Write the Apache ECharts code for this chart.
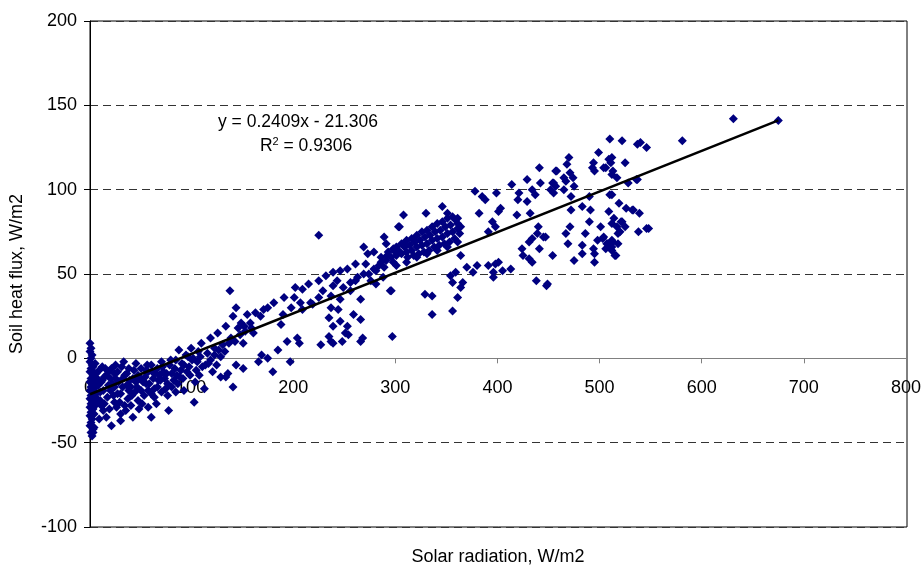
<!DOCTYPE html>
<html>
<head>
<meta charset="utf-8">
<script src="https://cdn.jsdelivr.net/npm/echarts@6/dist/echarts.min.js"></script>
<style>
html,body{margin:0;padding:0;background:#fff;}
#chart{width:924px;height:567px;}
</style>
</head>
<body>
<div id="chart"></div>
<script>
// ---- data ----
var xTicks = [0, 100, 200, 300, 400, 500, 600, 700, 800];
var yTicks = [-100, -50, 0, 50, 100, 150, 200];

// column of night-time points close to zero radiation
var pointsNearZero = [
[0,9],[1,6],[0,4],[2,2],[1,0],[0,-2],[2,-4],[1,-6],[0,-8],[3,-10],[1,-12],[0,-14],[2,-15],[1,-17],[0,-19],[3,-20],
[1,-22],[0,-24],[2,-25],[1,-27],[0,-29],[3,-30],[1,-32],[0,-34],[2,-36],[1,-38],[0,-40],[3,-42],[1,-44],[2,-46],
[4,-18],[4,-23],[5,-28],[4,-33],[5,-15],[6,-21],[6,-26],[4,-12],[3,-5]
];

// low radiation cloud
var pointsLow = [
[8,-16],[10,-20],[12,-13],[14,-11],[11,-14],[11,-28],[16,-35],[17,-23],[21,-40],[4,-41],[3,-44],[24,-9],[24,-17],
[24,-26],[20,-19],[28,-14],[30,-21],[30,-33],[30,-37],[34,-10],[36,-16],[37,-24],[40,-17],[40,-28],[42,-12],[44,-20],
[47,-10],[47,-25],[50,-19],[52,-14],[55,-7],[57,-8],[57,-19],[57,-29],[60,-35],[60,-4],[62,-12],[63,-23],[66,-17],
[66,-6],[69,-13],[70,-2],[72,-8],[74,-18],[76,-15],[76,-22],[77,-31],[78,-4],[80,-9],[82,-13],[84,-1],[86,-15],
[87,5],[89,-7],[90,-3],[92,-19],[94,2],[96,1],[98,-10],[99,6],[102,-26],[105,-2],[106,4],[109,9],[110,-5],[113,-4],
[115,3],[118,12],[120,-8],[122,6],[125,15],[128,1],[128,-11],[130,8],[133,19],[133,-11],[135,-9],[137,40],[138,12],
[140,25],[140,-17],[143,30],[143,-4],[145,18],[148,21],[150,-6],[150,9],[151,19],[154,26],[157,21],[160,15],[162,27],
[165,-2],[167,25],[168,2],[170,29],[174,0],[174,30],[179,-8],[180,33],[184,5],[187,20],[189,26],[190,36],[193,10],
[196,-2],[197,30],[200,36],[201,42],[203,12],[205,9],[206,33],[208,41],[208,29],[214,44],[216,33],[218,32],
[15,-6],[18,-8],[20,-12],[25,-4],[33,-2],[38,-6],[45,-3],[48,-30],[53,-22],[65,-27],[70,-20],[35,-31],[26,-29],
[13,-31],[9,-36],[7,-24],[6,-9],[12,-5],[42,-35],[64,-9],[84,-20],[95,-8],[103,-14],[112,-18],[118,-1],[124,-4],
[22,-15],[27,-21],[32,-12],[38,-19],[45,-14],[50,-6],[55,-15],[60,-21],[68,-10],[73,-12],[80,-17],[88,-11],[92,-4],
[100,-1],[104,-7],[108,1],[116,-3],[122,2],[126,5],[132,4],[136,9],[142,10],[147,14],[152,16],[158,18],
[3,-8],[5,-3],[7,-12],[9,-7],[10,-25],[13,-19],[14,-27],[16,-10],[18,-16],[19,-30],[21,-6],[23,-22],[25,-12],[27,-8],
[29,-26],[31,-5],[32,-17],[34,-28],[36,-9],[39,-13],[41,-22],[43,-7],[46,-17],[49,-12],[51,-27],[54,-11],[56,-4],
[58,-15],[61,-8],[63,-18],[67,-13],[71,-5],[75,-9],[79,-1],[83,-6],[85,-10],[91,-12],[97,-5],[101,0],[107,-10]
];

// medium radiation
var pointsMid = [
[224,73],[224,46],[224,36],[226,8],[228,40],[231,49],[234,24],[234,13],[236,37],[236,30],[236,10],[238,51],[238,43],
[238,19],[238,9],[243,29],[245,52],[245,35],[245,22],[247,10],[250,15],[252,53],[252,19],[253,14],[255,40],[258,26],
[260,56],[260,46],[265,35],[265,23],[265,10],[267,12],[268,66],[270,56],[272,62],[278,63],[278,53],[285,57],[287,48],
[288,72],[288,54],[290,68],[291,61],[294,40],[295,40],[296,13],[297,57],[299,63],[302,78],[303,78],[307,85],[307,68],
[311,60],[317,70],[328,38],[329,86],[335,37],[335,26],[345,90],[350,86],[353,49],[355,45],[355,28],[358,51],[360,83],
[360,36],[363,61],[363,42],[365,45]
];

// dense band between 290 and 365
var pointsBand = [
[290,58],[295,60],[300,61],[305,62],[310,63],[315,64],[320,66],[325,67],[330,68],[335,70],[340,71],[345,72],[350,74],
[355,75],[360,77],[363,78],[300,66],[305,68],[310,70],[315,71],[320,73],[325,75],[330,76],[335,78],[340,80],[345,81],
[350,83],[355,84],[360,80],[300,55],[310,57],[320,60],[330,62],[340,64],[350,66],[360,69],[280,52],[283,55],[273,50],
[275,46],[280,44],[255,45],[262,48],[268,50],[248,42],[242,46],
[285,60],[292,63],[297,65],[302,64],[308,66],[313,67],[318,69],[323,70],[328,72],[333,73],[338,75],[343,76],[348,78],
[353,79],[358,82],[362,74],[357,71],[352,69],[347,68],[342,67],[337,66],[332,64],[327,63],[322,62],[317,61]
];

// high radiation
var pointsHigh = [
[369,54],[375,51],[377,99],[379,55],[381,86],[384,96],[387,94],[390,75],[390,55],[394,81],[395,51],[395,48],[397,78],
[397,56],[398,98],[400,87],[400,57],[402,89],[404,52],[412,53],[413,103],[418,85],[419,94],[420,98],[423,65],[424,61],
[428,106],[428,93],[430,69],[430,59],[431,86],[433,100],[433,71],[433,57],[436,97],[437,46],[438,74],[439,78],[440,113],
[440,65],[441,104],[444,72],[446,72],[447,43],[448,44],[451,100],[453,104],[453,61],[454,98],[454,104],[456,111],
[456,102],[457,111],[464,107],[464,100],[466,105],[466,74],[467,115],[468,68],[469,119],[470,110],[470,78],[471,96],
[471,88],[473,107],[474,102],[474,58],[482,90],[482,67],[482,62],[485,74],[489,96],[489,81],[490,88],[492,113],[493,116],
[493,65],[494,111],[494,62],[494,57],[497,70],[498,122],[500,78],[502,71],[503,113],[505,65],[506,68],[508,118],[508,87],
[509,130],[510,116],[511,119],[511,109],[511,97],[511,80],[511,70],[511,66],[512,111],[513,83],[514,61],[515,61],
[516,107],[516,78],[517,74],[517,68],[518,92],[519,75],[521,129],[521,81],[524,116],[524,78],[525,89],[527,104],
[531,88],[535,106],[536,127],[536,106],[537,75],[538,86],[539,128],[545,125],[545,77],[580,129],[630,142],[674,141],
[505,113],[503,72],[507,68],[512,69],[511,64],[520,81],[532,88],[547,77],[509,97]
];

// linear trend (from the equation printed on the chart)
var trendSlope = 0.2409;
var trendIntercept = -21.306;
var trendXRange = [0, 674];
var equationText = 'y = 0.2409x - 21.306';
var r2Value = '0.9306';

var xTitle = 'Solar radiation, W/m2';
var yTitle = 'Soil heat flux, W/m2';

// ---- chart ----
var allPoints = pointsNearZero.concat(pointsLow, pointsMid, pointsBand, pointsHigh);
var trendData = trendXRange.map(function (x) { return [x, trendSlope * x + trendIntercept]; });

var FONT = '"Liberation Sans", Arial, sans-serif';
var W = 924, H = 567;
var gridLeft = 89, gridRight = 17, gridTop = 21, gridBottom = 40;
var yMin = yTicks[0], yMax = yTicks[yTicks.length - 1];
// second grid whose bottom edge sits at y = 0 of the main grid: carries the x axis line, ticks and labels
var plotH = H - gridTop - gridBottom;
var zeroFromBottom = gridBottom + plotH * (0 - yMin) / (yMax - yMin);

var chart = echarts.init(document.getElementById('chart'), null, { renderer: 'canvas' });
chart.setOption({
  animation: false,
  backgroundColor: '#ffffff',
  grid: [
    { left: gridLeft, right: gridRight, top: gridTop, bottom: gridBottom, show: true, borderColor: '#000', borderWidth: 1 },
    { left: gridLeft, right: gridRight, top: gridTop, bottom: zeroFromBottom, show: false }
  ],
  xAxis: [
    {
      gridIndex: 0, type: 'value', min: xTicks[0], max: xTicks[xTicks.length - 1], interval: 100,
      axisLine: { show: false }, axisTick: { show: false }, axisLabel: { show: false }, splitLine: { show: false }
    },
    {
      gridIndex: 1, type: 'value', min: xTicks[0], max: xTicks[xTicks.length - 1], interval: 100,
      axisLine: { show: true, onZero: false, lineStyle: { color: '#808080', width: 1 } },
      axisTick: { show: true, length: 5, lineStyle: { color: '#808080' } },
      axisLabel: { color: '#000', fontSize: 18, fontFamily: FONT, margin: 21 },
      splitLine: { show: false }, z: 0
    }
  ],
  yAxis: [
    {
      gridIndex: 0, type: 'value', min: yMin, max: yMax, interval: 50,
      name: yTitle, nameLocation: 'middle', nameGap: 64,
      nameTextStyle: { color: '#000', fontSize: 18, fontFamily: FONT },
      axisLine: { show: true, onZero: false, lineStyle: { color: '#000', width: 1 } },
      axisTick: { show: true, length: 6, lineStyle: { color: '#000' } },
      axisLabel: { color: '#000', fontSize: 18, fontFamily: FONT, margin: 13 },
      splitLine: { show: true, lineStyle: { color: '#333', type: [8, 5], width: 1 } }
    },
    {
      gridIndex: 1, type: 'value', min: 0, max: 1, show: false
    }
  ],
  graphic: [
    { type: 'text', x: 498, y: 557, style: { text: xTitle, fill: '#000', font: '18px ' + FONT, textAlign: 'center', textVerticalAlign: 'middle' } },
    { type: 'text', x: 298, y: 122, style: { text: equationText, fill: '#000', font: '17.5px ' + FONT, textAlign: 'center', textVerticalAlign: 'middle' } },
    { type: 'text', x: 306, y: 146, style: {
        text: 'R{sup|2} = ' + r2Value, fill: '#000', font: '17.5px ' + FONT, textAlign: 'center', textVerticalAlign: 'middle',
        rich: { sup: { fontSize: 11, fontFamily: FONT, verticalAlign: 'top', lineHeight: 20, fill: '#000' } }
      } }
  ],
  series: [
    {
      type: 'scatter', xAxisIndex: 0, yAxisIndex: 0, data: allPoints, symbol: 'diamond', symbolSize: 9,
      itemStyle: { color: '#000080', opacity: 1 }, z: 3
    },
    {
      type: 'line', xAxisIndex: 0, yAxisIndex: 0, data: trendData, showSymbol: false, symbol: 'none',
      lineStyle: { color: '#000', width: 2.5 }, z: 4
    }
  ]
});
</script>
</body>
</html>
